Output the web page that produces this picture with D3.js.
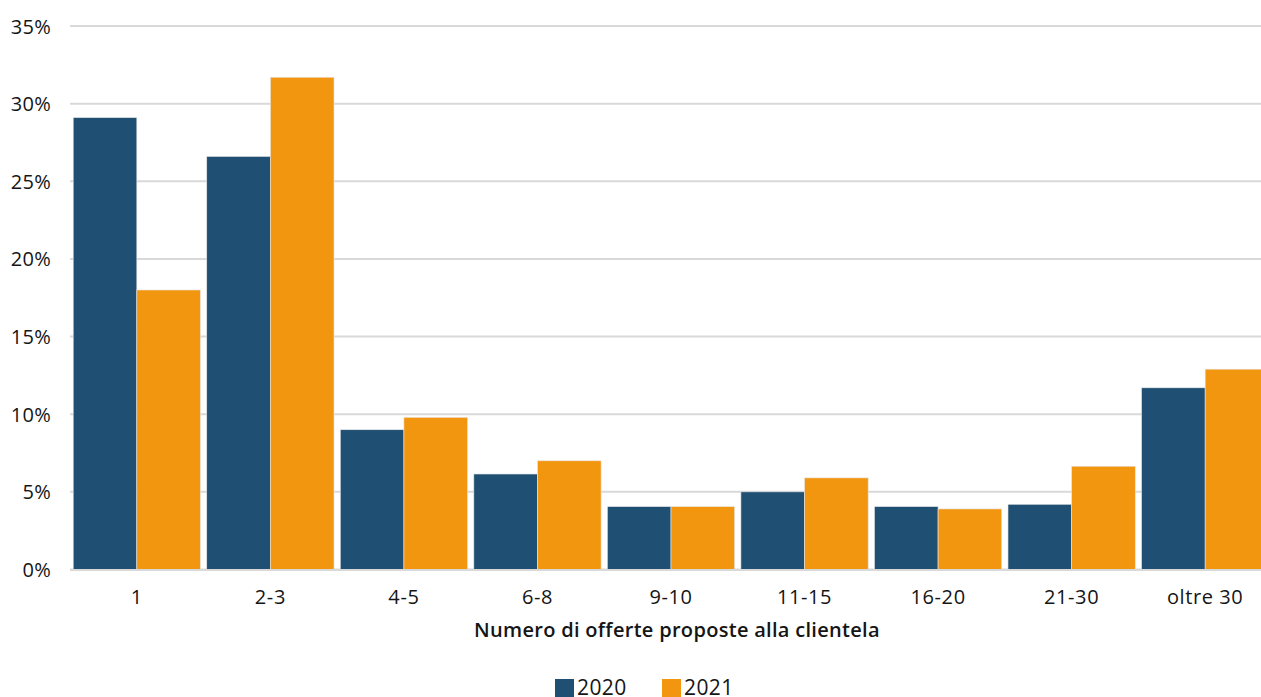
<!DOCTYPE html>
<html><head><meta charset="utf-8">
<script src="https://cdn.jsdelivr.net/npm/d3@7"></script>
<style>body{margin:0;background:#fff}svg{display:block}text{font-family:"Open Sans","Noto Sans",sans-serif;fill:#151515}</style>
</head><body><svg id="c" width="1261" height="697"></svg>
<script>
const categories = ["1","2-3","4-5","6-8","9-10","11-15","16-20","21-30","oltre 30"];
const series = ["2020","2021"];
const values2020 = [29.1, 26.6, 9.0, 6.15, 4.05, 5.0, 4.05, 4.2, 11.7];
const values2021 = [18.0, 31.7, 9.8, 7.0, 4.05, 5.9, 3.9, 6.65, 12.9];
const yTicks = [0,5,10,15,20,25,30,35];
const colors = ["#1f5073","#f3960f"];
const xTitle = "Numero di offerte proposte alla clientela";

const svg = d3.select("#c");
const y = d3.scaleLinear().domain([0,35]).range([569.5,26]);
const x = d3.scaleBand().domain(categories).range([70,1272]).paddingInner(0.047).paddingOuter(0.024);
const xs = d3.scaleBand().domain(series).range([0,x.bandwidth()]);

// grid
svg.append("g").selectAll("line").data(yTicks).join("line")
  .attr("x1",70).attr("x2",1261).attr("y1",d=>y(d)).attr("y2",d=>y(d))
  .attr("stroke","#d9d9d9").attr("stroke-width",2);

// y labels
svg.append("g").selectAll("text").data(yTicks).join("text")
  .attr("x",51).attr("y",d=>y(d)+7.5).attr("text-anchor","end")
  .attr("font-size",20).attr("letter-spacing",0.3).text(d=>d+"%");

// bars
const data = [values2020, values2021];
series.forEach((s,si)=>{
  svg.append("g").selectAll("rect").data(categories).join("rect")
    .attr("x",c=>x(c)+xs(s)).attr("width",xs.bandwidth())
    .attr("y",(c,i)=>y(data[si][i])).attr("height",(c,i)=>y(0)-y(data[si][i]))
    .attr("fill",colors[si]).attr("stroke","#e6e6e6").attr("stroke-width",0.6);
});

// baseline
svg.append("line").attr("x1",70).attr("x2",1261).attr("y1",y(0)+0.5).attr("y2",y(0)+0.5)
  .attr("stroke","#d9d9d9").attr("stroke-width",2);

// x labels
svg.append("g").selectAll("text").data(categories).join("text")
  .attr("x",c=>x(c)+x.bandwidth()/2).attr("y",604).attr("text-anchor","middle")
  .attr("font-size",20).attr("letter-spacing",0.6).text(d=>d);

svg.append("text").attr("x",677).attr("y",637).attr("text-anchor","middle")
  .attr("font-size",20).attr("font-weight",600).attr("letter-spacing",0.3).text(xTitle);

// legend
const lg = svg.append("g");
const lx = [555,662];
series.forEach((s,i)=>{
  lg.append("rect").attr("x",lx[i]).attr("y",679).attr("width",19).attr("height",19).attr("fill",colors[i]);
  lg.append("text").attr("x",lx[i]+22).attr("y",695).attr("font-size",21).attr("letter-spacing",0.4).text(s);
});
</script></body></html>
